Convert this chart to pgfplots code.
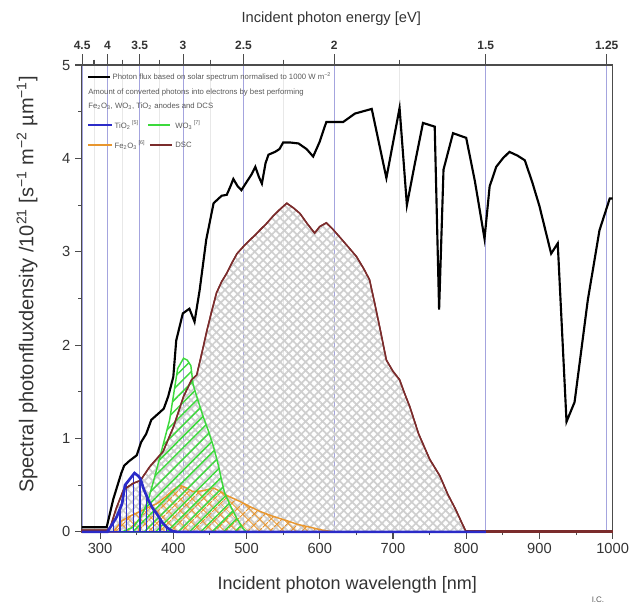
\documentclass[border=0pt]{standalone}
\usepackage{fontspec}
\setmainfont{Liberation Sans}
\usepackage{pgfplots}
\pgfplotsset{compat=1.18}
\usetikzlibrary{patterns.meta}

\definecolor{lav}{HTML}{A4A4DE}
\definecolor{dsc}{HTML}{7B2C2C}
\definecolor{tio}{HTML}{2B2BC8}
\definecolor{wo}{HTML}{3CD93C}
\definecolor{feo}{HTML}{E8962E}
\definecolor{txt}{HTML}{333333}

% photon flux (solar spectrum, 1000 W m^-2)
\pgfplotstableread{
x y
275 0.05
309 0.05
318 0.35
329 0.63
333 0.71
340 0.76
350 0.82
356 0.96
363 1.05
370 1.20
380 1.27
387 1.32
393 1.45
400 1.66
404 2.05
413 2.34
422 2.39
429 2.25
436 2.59
445 3.13
455 3.52
466 3.60
473 3.61
478 3.70
482 3.78
488 3.70
493 3.66
502 3.77
507 3.83
512 3.91
517 3.80
521 3.73
526 3.95
530 4.04
539 4.07
545 4.10
550 4.17
560 4.17
571 4.16
582 4.10
591 4.02
600 4.18
605 4.30
609 4.39
620 4.39
632 4.39
648 4.48
671 4.53
691 3.79
709 4.54
719 3.50
730 3.95
741 4.38
757 4.34
763 2.38
769 3.88
782 4.27
800 4.22
812 3.75
825 3.14
832 3.70
841 3.91
850 4.00
859 4.07
870 4.03
880 3.98
890 3.75
900 3.49
916 2.98
925 3.09
937 1.18
948 1.39
966 2.48
982 3.23
996 3.57
1000 3.57
}\flux

\pgfplotstableread{
x y
275 0.02
310 0.02
314 0.05
322 0.25
332 0.45
345 0.52
355 0.55
368 0.70
386 0.86
400 1.12
414 1.45
425 1.63
432 1.68
440 1.95
446 2.16
452 2.35
459 2.56
466 2.68
473 2.77
480 2.88
487 2.98
495 3.05
505 3.13
512 3.18
518 3.23
527 3.30
536 3.38
545 3.45
555 3.52
564 3.47
573 3.41
583 3.30
593 3.20
600 3.27
609 3.31
618 3.24
627 3.16
638 3.06
650 2.95
660 2.82
668 2.70
675 2.45
683 2.15
691 1.84
700 1.72
709 1.63
716 1.48
723 1.34
735 1.05
750 0.78
764 0.60
775 0.40
785 0.25
795 0.08
800 0.00
1000 0.00
}\dscdata

\pgfplotstableread{
x y
275 0.00
318 0.00
330 0.12
341 0.17
355 0.22
368 0.27
377 0.30
390 0.38
400 0.45
409 0.50
418 0.47
427 0.43
440 0.44
455 0.47
465 0.43
473 0.39
490 0.33
505 0.27
518 0.22
535 0.17
555 0.12
570 0.08
587 0.05
603 0.02
620 0.00
}\fedata

\pgfplotstableread{
x y
330 0.00
345 0.05
355 0.15
365 0.32
375 0.60
385 0.90
395 1.20
401 1.50
406 1.75
414 1.86
419 1.84
424 1.78
427 1.58
432 1.45
441 1.23
448 1.08
455 0.91
462 0.70
466 0.55
470 0.42
478 0.28
487 0.14
495 0.04
500 0.00
}\wodata

\pgfplotstableread{
x y
275 0.00
310 0.00
314 0.05
322 0.15
330 0.30
334 0.50
341 0.57
347 0.63
352 0.60
355 0.57
360 0.45
366 0.34
372 0.25
377 0.20
385 0.10
391 0.05
398 0.01
405 0.00
827 0.00
}\tidata

\begin{document}
\begin{tikzpicture}
\pgfplotsset{
  base/.style={
    scale only axis, width=398pt, height=350pt,
    xmin=275, xmax=1000, ymin=0, ymax=5,
    tick align=outside,
    major tick length=5pt, minor tick length=2.5pt,
    every tick/.style={gray!60!black, line width=0.8pt},
    axis line style={gray!60!black, line width=1pt},
    tick label style={font=\fontsize{11}{12}\selectfont, text=txt},
    /pgf/number format/assume math mode=true,
    /pgf/number format/1000 sep={},
  }
}
% top energy axis, with the grid lines
\begin{axis}[base,
  axis x line*=top, axis y line=none,
  xtick={275.5,310,354.2,413.3,495.9,619.9,826.6,991.9},
  xticklabels={4.5,4,3.5,3,2.5,2,1.5,1.25},
  minor xtick={291.7,330.6,381.5,450.9,551.0,708.5},
  xmajorgrids, xminorgrids,
  major grid style={lav, line width=0.8pt},
  minor grid style={gray!18, line width=0.6pt},
  major tick length=8pt, minor tick length=4pt,
  xticklabel style={font=\fontsize{9}{10}\selectfont\bfseries, text=txt},
  xlabel={Incident photon energy [eV]},
  xlabel style={font=\fontsize{11}{12}\selectfont, text=txt,
    at={(axis description cs:0.47,1.1)}, anchor=center},
]
\end{axis}

\begin{axis}[base,
  clip=false,
  xtick={300,400,...,1000},
  minor xtick={350,450,...,950},
  ytick={0,1,...,5},
  minor ytick={0.5,1.5,...,4.5},
  xtick pos=bottom, ytick pos=left,
  xlabel={Incident photon wavelength [nm]},
  ylabel={Spectral photonfluxdensity /10\textsuperscript{21} [s\textsuperscript{−1} m\textsuperscript{−2} µm\textsuperscript{−1}]},
  xlabel style={font=\fontsize{13.5}{15}\selectfont, text=txt,
    at={(axis description cs:0.5,-0.114)}, anchor=center},
  ylabel style={font=\fontsize{15}{16}\selectfont, text=txt,
    at={(axis description cs:-0.103,0.53)}, anchor=center},
]
\addplot[draw=dsc, line width=1.1pt,
  pattern={Hatch[angle=45,distance=4.5pt,line width=1.3pt]}, pattern color=gray!38]
  table[x=x,y=y]{\dscdata} \closedcycle;
\addplot[draw=feo, line width=1.1pt,
  pattern={Hatch[angle=45,distance=6.5pt,line width=1pt]}, pattern color=feo]
  table[x=x,y=y]{\fedata} \closedcycle;
\addplot[draw=wo, line width=1.1pt,
  pattern={Lines[angle=45,distance=6pt,line width=1.1pt]}, pattern color=wo]
  table[x=x,y=y]{\wodata} \closedcycle;
\addplot[draw=tio, line width=1.1pt,
  pattern={Lines[angle=90,distance=5pt,line width=1.1pt]}, pattern color=tio]
  table[x=x,y=y]{\tidata} \closedcycle;
\addplot[draw=dsc, line width=1.1pt] table[x=x,y=y]{\dscdata};
% zero tail of the DSC series, drawn heavier along the baseline
\addplot[draw=dsc, line width=2.2pt, restrict x to domain=800:1000] table[x=x,y=y]{\dscdata};
\addplot[draw=tio, line width=2pt] table[x=x,y=y]{\tidata};
\addplot[black, line width=1.6pt] table[x=x,y=y]{\flux};
\coordinate (tl) at (rel axis cs:0,1);
\coordinate (br) at (rel axis cs:1,0);
\end{axis}

% legend
\begin{scope}[shift={(tl)}, font=\fontsize{5.8}{6.8}\selectfont, text=gray!70!black]
\draw[black, line width=1.6pt] (4.7pt,-9pt) -- (21.2pt,-9pt);
\node[anchor=west, inner sep=0] at (23pt,-9pt) {Photon flux based on solar spectrum normalised to 1000 W m\textsuperscript{−2}};
\node[anchor=west, inner sep=0] at (4.7pt,-20.25pt) {Amount of converted photons into electrons by best performing};
\node[anchor=west, inner sep=0] at (4.7pt,-30.75pt) {Fe\textsubscript{2}O\textsubscript{3}, WO\textsubscript{3}, TiO\textsubscript{2} anodes and DCS};
\draw[tio, line width=1.6pt] (4.7pt,-45pt) -- (22.7pt,-45pt);
\node[anchor=west, inner sep=0] at (24.5pt,-45pt) {TiO\textsubscript{2}\textsuperscript{ [5]}};
\draw[wo, line width=1.6pt] (49.7pt,-45pt) -- (66.2pt,-45pt);
\node[anchor=west, inner sep=0] at (70pt,-45pt) {WO\textsubscript{3}\textsuperscript{ [7]}};
\draw[feo, line width=1.6pt] (4.7pt,-60pt) -- (22.7pt,-60pt);
\node[anchor=west, inner sep=0] at (24.5pt,-60pt) {Fe\textsubscript{2}O\textsubscript{3}\textsuperscript{ [6]}};
\draw[dsc, line width=1.6pt] (51pt,-60pt) -- (67.5pt,-60pt);
\node[anchor=west, inner sep=0] at (70pt,-60pt) {DSC};
\end{scope}
\node[font=\fontsize{6}{7}\selectfont, text=gray!70!black] at ([shift={(-11pt,-51pt)}]br) {I.C.};

\pgfresetboundingbox
\useasboundingbox ([shift={(-61.3pt,48.75pt)}]tl) rectangle ([shift={(13pt,-57.2pt)}]br);
\end{tikzpicture}
\end{document}
